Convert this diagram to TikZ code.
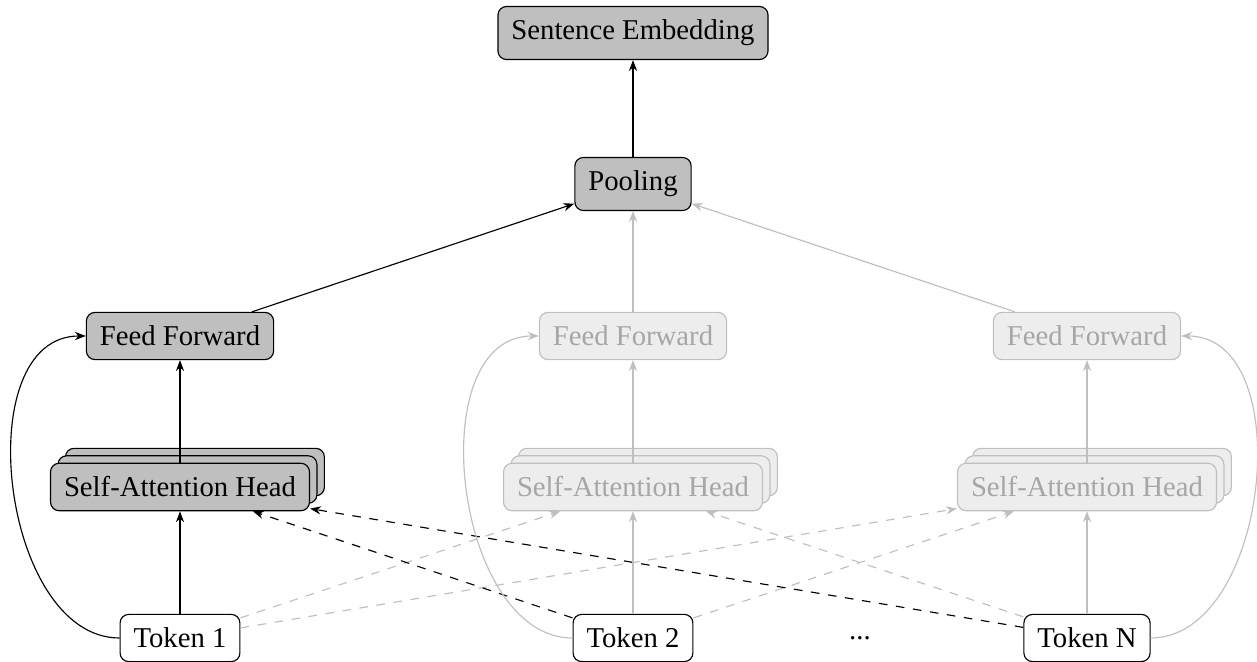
\documentclass[tikz,border=0pt]{standalone}
\usepackage{fontspec}
\setmainfont{Liberation Serif}
\usetikzlibrary{arrows.meta,shadows}

\tikzset{
	box/.style={draw, rounded corners=3pt, fill=black!25, inner sep=4.7pt},
	dim/.style={fill=black!7, draw=black!25, text=black!35},
	tokenbox/.style={draw, rounded corners=3pt, fill=white, inner sep=4.7pt},
	heads/.style={copy shadow={shadow xshift=5.2pt, shadow yshift=5.2pt, #1},
		copy shadow={shadow xshift=2.6pt, shadow yshift=2.6pt, #1}},
	link/.style={-{Stealth[length=3.8pt]}},
	faint/.style={link, draw=black!25},
}

\begin{document}
\begin{tikzpicture}[x=0.3484pt, y=-0.3484pt]
	\useasboundingbox (0,0) rectangle (1257,662);
	
	\node[box] (se) at (633,33) {Sentence Embedding};
	\node[box] (pool) at (633,184) {Pooling};
	
	\node[box] (ff1) at (180,336) {Feed Forward};
	\node[box, dim] (ff2) at (633,336) {Feed Forward};
	\node[box, dim] (ff3) at (1087,336) {Feed Forward};
	
	\node[box, heads={fill=black!25, draw=black}] (sa1) at (180,487) {Self-Attention Head};
	\node[box, dim, heads={fill=black!7, draw=black!25}] (sa2) at (633,487) {Self-Attention Head};
	\node[box, dim, heads={fill=black!7, draw=black!25}] (sa3) at (1087,487) {Self-Attention Head};
	
	\node[tokenbox] (t1) at (180,638) {Token 1};
	\node[tokenbox] (t2) at (633,638) {Token 2};
	\node[tokenbox] (tN) at (1087,638) {Token N};
	\node (dots) at (860,638) {...};
	
	% cross attention
	\foreach \a/\b in {t1/sa2, t1/sa3, tN/sa2, t2/sa3}
		\draw[faint, dashed] (\a) -- (\b);
	\draw[link, dashed] (t2) -- (sa1);
	\draw[link, dashed] (tN) -- (sa1);
	
	% first token
	\draw[link] (t1) -- (sa1);
	\draw[link] (sa1) -- (ff1);
	\draw[link] (t1.west) to[out=180, in=180] (ff1.west);
	\draw[link] (ff1) -- (pool);
	
	% other tokens
	\draw[faint] (t2) -- (sa2);
	\draw[faint] (sa2) -- (ff2);
	\draw[faint] (t2.west) to[out=180, in=180] (ff2.west);
	\draw[faint] (ff2) -- (pool);
	\draw[faint] (tN) -- (sa3);
	\draw[faint] (sa3) -- (ff3);
	\draw[faint] (tN.east) to[out=0, in=0] (ff3.east);
	\draw[faint] (ff3) -- (pool);
	
	\draw[link] (pool) -- (se);
\end{tikzpicture}
\end{document}
